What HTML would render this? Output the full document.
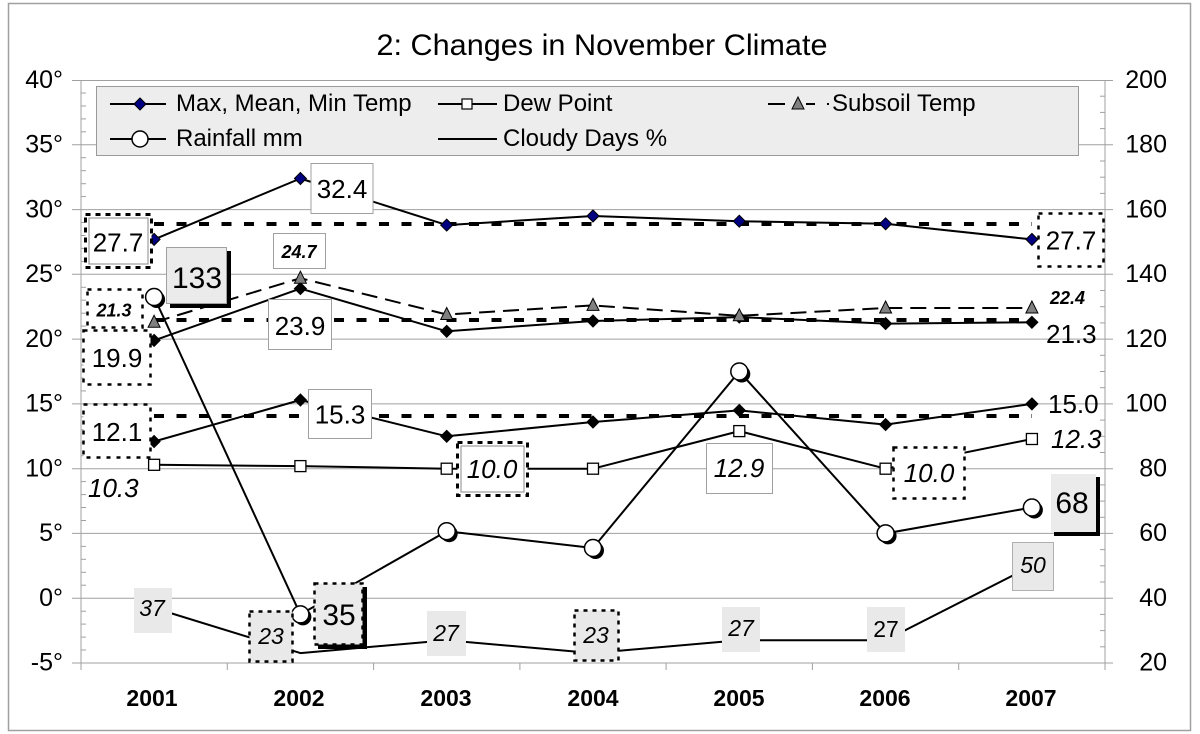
<!DOCTYPE html>
<html><head><meta charset="utf-8"><style>
html,body{margin:0;padding:0;background:#fff;}
svg{display:block;}
text{font-family:"Liberation Sans",Arial,sans-serif;fill:#000;}
</style></head><body>
<svg width="1200" height="734" viewBox="0 0 1200 734" xmlns="http://www.w3.org/2000/svg">
<rect x="0" y="0" width="1200" height="734" fill="#fff"/>
<rect x="8.5" y="3.5" width="1182" height="727" fill="none" stroke="#a0a0a0" stroke-width="1.5"/>

<text x="602" y="55" font-size="30" text-anchor="middle" textLength="451" lengthAdjust="spacingAndGlyphs">2: Changes in November Climate</text>

<!-- gridlines -->
<g stroke="#a0a0a0" stroke-width="1">
<line x1="72" y1="80.5" x2="1113" y2="80.5"/>
<line x1="72" y1="144.8" x2="1113" y2="144.8"/>
<line x1="72" y1="209.6" x2="1113" y2="209.6"/>
<line x1="72" y1="274.3" x2="1113" y2="274.3"/>
<line x1="72" y1="339.1" x2="1113" y2="339.1"/>
<line x1="72" y1="403.9" x2="1113" y2="403.9"/>
<line x1="72" y1="468.7" x2="1113" y2="468.7"/>
<line x1="72" y1="533.4" x2="1113" y2="533.4"/>
<line x1="72" y1="598.2" x2="1113" y2="598.2"/>
<line x1="72" y1="663" x2="1113" y2="663"/>
<line x1="81" y1="80" x2="81" y2="663"/>
<line x1="1105" y1="80" x2="1105" y2="663"/>
<line x1="81" y1="663" x2="81" y2="670"/>
<line x1="227.3" y1="663" x2="227.3" y2="670"/>
<line x1="373.6" y1="663" x2="373.6" y2="670"/>
<line x1="519.9" y1="663" x2="519.9" y2="670"/>
<line x1="666.1" y1="663" x2="666.1" y2="670"/>
<line x1="812.4" y1="663" x2="812.4" y2="670"/>
<line x1="958.7" y1="663" x2="958.7" y2="670"/>
<line x1="1105" y1="663" x2="1105" y2="670"/>
</g>
<!-- minor ticks left -->
<g stroke="#a0a0a0" stroke-width="1">
<line x1="81" y1="93" x2="86" y2="93"/><line x1="81" y1="106" x2="86" y2="106"/><line x1="81" y1="118.9" x2="86" y2="118.9"/><line x1="81" y1="131.8" x2="86" y2="131.8"/>
<line x1="81" y1="157.7" x2="86" y2="157.7"/><line x1="81" y1="170.7" x2="86" y2="170.7"/><line x1="81" y1="183.7" x2="86" y2="183.7"/><line x1="81" y1="196.6" x2="86" y2="196.6"/>
<line x1="81" y1="222.5" x2="86" y2="222.5"/><line x1="81" y1="235.5" x2="86" y2="235.5"/><line x1="81" y1="248.4" x2="86" y2="248.4"/><line x1="81" y1="261.4" x2="86" y2="261.4"/>
<line x1="81" y1="287.3" x2="86" y2="287.3"/><line x1="81" y1="300.2" x2="86" y2="300.2"/><line x1="81" y1="313.2" x2="86" y2="313.2"/><line x1="81" y1="326.1" x2="86" y2="326.1"/>
<line x1="81" y1="352.1" x2="86" y2="352.1"/><line x1="81" y1="365" x2="86" y2="365"/><line x1="81" y1="378" x2="86" y2="378"/><line x1="81" y1="390.9" x2="86" y2="390.9"/>
<line x1="81" y1="416.8" x2="86" y2="416.8"/><line x1="81" y1="429.8" x2="86" y2="429.8"/><line x1="81" y1="442.8" x2="86" y2="442.8"/><line x1="81" y1="455.7" x2="86" y2="455.7"/>
<line x1="81" y1="481.6" x2="86" y2="481.6"/><line x1="81" y1="494.6" x2="86" y2="494.6"/><line x1="81" y1="507.5" x2="86" y2="507.5"/><line x1="81" y1="520.5" x2="86" y2="520.5"/>
<line x1="81" y1="546.4" x2="86" y2="546.4"/><line x1="81" y1="559.3" x2="86" y2="559.3"/><line x1="81" y1="572.3" x2="86" y2="572.3"/><line x1="81" y1="585.2" x2="86" y2="585.2"/>
<line x1="81" y1="611.2" x2="86" y2="611.2"/><line x1="81" y1="624.1" x2="86" y2="624.1"/><line x1="81" y1="637.1" x2="86" y2="637.1"/><line x1="81" y1="650" x2="86" y2="650"/>
</g>
<!-- minor ticks right -->
<g stroke="#a0a0a0" stroke-width="1">
<line x1="1100" y1="96.2" x2="1105" y2="96.2"/><line x1="1100" y1="112.4" x2="1105" y2="112.4"/><line x1="1100" y1="128.6" x2="1105" y2="128.6"/>
<line x1="1100" y1="161" x2="1105" y2="161"/><line x1="1100" y1="177.2" x2="1105" y2="177.2"/><line x1="1100" y1="193.4" x2="1105" y2="193.4"/>
<line x1="1100" y1="225.8" x2="1105" y2="225.8"/><line x1="1100" y1="242" x2="1105" y2="242"/><line x1="1100" y1="258.1" x2="1105" y2="258.1"/>
<line x1="1100" y1="290.5" x2="1105" y2="290.5"/><line x1="1100" y1="306.7" x2="1105" y2="306.7"/><line x1="1100" y1="322.9" x2="1105" y2="322.9"/>
<line x1="1100" y1="355.3" x2="1105" y2="355.3"/><line x1="1100" y1="371.5" x2="1105" y2="371.5"/><line x1="1100" y1="387.7" x2="1105" y2="387.7"/>
<line x1="1100" y1="420.1" x2="1105" y2="420.1"/><line x1="1100" y1="436.3" x2="1105" y2="436.3"/><line x1="1100" y1="452.5" x2="1105" y2="452.5"/>
<line x1="1100" y1="484.9" x2="1105" y2="484.9"/><line x1="1100" y1="501.1" x2="1105" y2="501.1"/><line x1="1100" y1="517.3" x2="1105" y2="517.3"/>
<line x1="1100" y1="549.6" x2="1105" y2="549.6"/><line x1="1100" y1="565.8" x2="1105" y2="565.8"/><line x1="1100" y1="582" x2="1105" y2="582"/>
<line x1="1100" y1="614.4" x2="1105" y2="614.4"/><line x1="1100" y1="630.6" x2="1105" y2="630.6"/><line x1="1100" y1="646.8" x2="1105" y2="646.8"/>
</g>

<!-- axis labels -->
<g font-size="25" text-anchor="end">
<text x="63" y="88">40°</text><text x="63" y="152.5">35°</text><text x="63" y="217.3">30°</text><text x="63" y="282">25°</text>
<text x="63" y="346.8">20°</text><text x="63" y="411.6">15°</text><text x="63" y="476.4">10°</text><text x="63" y="541.1">5°</text>
<text x="63" y="605.9">0°</text><text x="63" y="670.7">-5°</text>
<text x="1167" y="88">200</text><text x="1167" y="152.5">180</text><text x="1167" y="217.3">160</text><text x="1167" y="282">140</text>
<text x="1167" y="346.8">120</text><text x="1167" y="411.6">100</text><text x="1167" y="476.4">80</text><text x="1167" y="541.1">60</text>
<text x="1167" y="605.9">40</text><text x="1167" y="670.7">20</text>
</g>
<g font-size="23" font-weight="bold" text-anchor="middle">
<text x="152" y="706">2001</text><text x="299" y="706">2002</text><text x="446" y="706">2003</text><text x="593" y="706">2004</text>
<text x="739" y="706">2005</text><text x="885" y="706">2006</text><text x="1031" y="706">2007</text>
</g>

<!-- legend -->
<rect x="96.5" y="86.5" width="982" height="69" fill="#ededed" stroke="#9a9a9a" stroke-width="1"/>
<g stroke="#000" stroke-width="2">
<line x1="110" y1="104" x2="166" y2="104"/>
<line x1="110" y1="139" x2="166" y2="139"/>
<line x1="438" y1="104" x2="497" y2="104"/>
<line x1="438" y1="139" x2="497" y2="139"/>
<line x1="768" y1="104" x2="785" y2="104"/>
<line x1="806" y1="104" x2="815" y2="104"/>
<line x1="827" y1="104" x2="829" y2="104"/>
</g>
<polygon points="140,98 146,104 140,110 134,104" fill="#000080" stroke="#000" stroke-width="1"/>
<circle cx="140" cy="139" r="8" fill="#fff" stroke="#000" stroke-width="1.5"/>
<rect x="462" y="99" width="10" height="10" fill="#fff" stroke="#000" stroke-width="1.2"/>
<polygon points="798,97 804,109 792,109" fill="#808080" stroke="#000" stroke-width="1"/>
<g font-size="24">
<text x="176" y="111">Max, Mean, Min Temp</text>
<text x="503" y="111">Dew Point</text>
<text x="832" y="111">Subsoil Temp</text>
<text x="176" y="146">Rainfall mm</text>
<text x="503" y="146">Cloudy Days %</text>
</g>

<!-- average lines -->
<g stroke="#000" stroke-width="4" stroke-dasharray="10 12.5" fill="none">
<line x1="154" y1="224" x2="1032" y2="224"/>
<line x1="154" y1="320" x2="1032" y2="320"/>
<line x1="154" y1="416" x2="1032" y2="416"/>
</g>

<!-- series lines -->
<g fill="none" stroke="#000" stroke-width="2" stroke-linejoin="round">
<polyline points="154.1,608 300.4,653.1 446.7,640.2 593,653.1 739.3,640.2 885.6,640.2 1031.9,565.8"/>
<polyline points="154.1,297 300.4,614.4 446.7,531.2 593,548 739.3,371.5 885.6,533.4 1031.9,507.5"/>
<polyline points="154.1,464.8 300.4,466.1 446.7,468.7 593,468.7 739.3,431.1 885.6,468.7 1031.9,439"/>
<polyline points="154.1,441.5 300.4,400 446.7,436.3 593,422 739.3,410.4 885.6,424.6 1031.9,403.9"/>
<polyline points="154.1,340.4 300.4,288.6 446.7,331.3 593,321 739.3,317.1 885.6,323.6 1031.9,322.3"/>
<polyline points="154.1,322.3 300.4,278.2 446.7,314.5 593,305.4 739.3,315.8 885.6,308 1031.9,308" stroke-dasharray="16 8"/>
<polyline points="154.1,239.4 300.4,178.5 446.7,225.1 593,216 739.3,221.2 885.6,223.8 1031.9,239.4"/>
</g>

<!-- markers -->
<g fill="#000080" stroke="#000" stroke-width="1">
<polygon points="154.1,233.4 160.1,239.4 154.1,245.4 148.1,239.4"/>
<polygon points="300.4,172.5 306.4,178.5 300.4,184.5 294.4,178.5"/>
<polygon points="446.7,219.1 452.7,225.1 446.7,231.1 440.7,225.1"/>
<polygon points="593,210 599,216 593,222 587,216"/>
<polygon points="739.3,215.2 745.3,221.2 739.3,227.2 733.3,221.2"/>
<polygon points="885.6,217.8 891.6,223.8 885.6,229.8 879.6,223.8"/>
<polygon points="1031.9,233.4 1037.9,239.4 1031.9,245.4 1025.9,239.4"/>
</g>
<g fill="#000" stroke="#000" stroke-width="1">
<polygon points="154.1,334.4 160.1,340.4 154.1,346.4 148.1,340.4"/>
<polygon points="300.4,282.6 306.4,288.6 300.4,294.6 294.4,288.6"/>
<polygon points="446.7,325.3 452.7,331.3 446.7,337.3 440.7,331.3"/>
<polygon points="593,315 599,321 593,327 587,321"/>
<polygon points="739.3,311.1 745.3,317.1 739.3,323.1 733.3,317.1"/>
<polygon points="885.6,317.6 891.6,323.6 885.6,329.6 879.6,323.6"/>
<polygon points="1031.9,316.3 1037.9,322.3 1031.9,328.3 1025.9,322.3"/>
<polygon points="154.1,435.5 160.1,441.5 154.1,447.5 148.1,441.5"/>
<polygon points="300.4,394 306.4,400 300.4,406 294.4,400"/>
<polygon points="446.7,430.3 452.7,436.3 446.7,442.3 440.7,436.3"/>
<polygon points="593,416 599,422 593,428 587,422"/>
<polygon points="739.3,404.4 745.3,410.4 739.3,416.4 733.3,410.4"/>
<polygon points="885.6,418.6 891.6,424.6 885.6,430.6 879.6,424.6"/>
<polygon points="1031.9,397.9 1037.9,403.9 1031.9,409.9 1025.9,403.9"/>
</g>
<g fill="#808080" stroke="#000" stroke-width="1">
<polygon points="154.1,315.3 160.1,327.3 148.1,327.3"/>
<polygon points="300.4,271.2 306.4,283.2 294.4,283.2"/>
<polygon points="446.7,307.5 452.7,319.5 440.7,319.5"/>
<polygon points="593,298.4 599,310.4 587,310.4"/>
<polygon points="739.3,308.8 745.3,320.8 733.3,320.8"/>
<polygon points="885.6,301 891.6,313 879.6,313"/>
<polygon points="1031.9,301 1037.9,313 1025.9,313"/>
</g>
<g fill="#fff" stroke="#000" stroke-width="1.3">
<rect x="148.6" y="459.3" width="11" height="11"/>
<rect x="294.9" y="460.6" width="11" height="11"/>
<rect x="441.2" y="463.2" width="11" height="11"/>
<rect x="587.5" y="463.2" width="11" height="11"/>
<rect x="733.8" y="425.6" width="11" height="11"/>
<rect x="880.1" y="463.2" width="11" height="11"/>
<rect x="1026.4" y="433.5" width="11" height="11"/>
</g>
<g fill="#000">
<circle cx="156.6" cy="299.5" r="8.5"/><circle cx="302.9" cy="616.9" r="8.5"/><circle cx="449.2" cy="533.7" r="8.5"/>
<circle cx="595.5" cy="550.5" r="8.5"/><circle cx="741.8" cy="374" r="8.5"/><circle cx="888.1" cy="535.9" r="8.5"/><circle cx="1034.4" cy="510" r="8.5"/>
</g>
<g fill="#fff" stroke="#000" stroke-width="1.5">
<circle cx="154.1" cy="297" r="8.5"/><circle cx="300.4" cy="614.4" r="8.5"/><circle cx="446.7" cy="531.2" r="8.5"/>
<circle cx="593" cy="548" r="8.5"/><circle cx="739.3" cy="371.5" r="8.5"/><circle cx="885.6" cy="533.4" r="8.5"/><circle cx="1031.9" cy="507.5" r="8.5"/>
</g>

<!-- label boxes -->
<g fill="#fff" stroke="#a0a0a0" stroke-width="1">
<rect x="311" y="163.5" width="62" height="50"/>
<rect x="268.5" y="299.5" width="63" height="50"/>
<rect x="308.5" y="389.5" width="63" height="49"/>
<rect x="706.5" y="443.5" width="66" height="50"/>
<rect x="273.5" y="233.5" width="52" height="35"/>
</g>
<g fill="#fff">
<rect x="85.5" y="214.5" width="66" height="53" stroke="#000" stroke-width="3" stroke-dasharray="5 5"/>
<rect x="89" y="218" width="59" height="46" stroke="#888" stroke-width="1"/>
<rect x="457.5" y="442.5" width="70" height="53" stroke="#000" stroke-width="3" stroke-dasharray="5 5"/>
<rect x="461" y="446" width="63" height="46" stroke="#888" stroke-width="1"/>
</g>
<g fill="#fff" stroke="#000" stroke-width="2.5" stroke-dasharray="4 6">
<rect x="1038.5" y="213.5" width="65" height="53"/>
<rect x="83.5" y="330.5" width="67" height="54"/>
<rect x="83.5" y="404.5" width="67" height="53"/>
<rect x="893.5" y="447.5" width="71" height="51"/>
<rect x="87.5" y="289.5" width="55" height="38"/>
</g>
<rect x="170" y="251" width="61" height="57" fill="#000"/>
<rect x="166.5" y="247.5" width="60" height="56" fill="#ebebeb" stroke="#a0a0a0" stroke-width="1"/>
<rect x="318" y="587" width="49" height="62" fill="#000"/>
<rect x="314.5" y="583.5" width="48" height="61" fill="#ebebeb" stroke="#000" stroke-width="2.5" stroke-dasharray="4 5"/>
<rect x="1054" y="477" width="46" height="59" fill="#000"/>
<rect x="1051" y="474" width="45" height="58" fill="#ebebeb"/>
<g fill="#e9e9e9">
<rect x="134" y="588" width="38" height="45"/>
<rect x="427" y="611" width="39" height="45"/>
<rect x="722" y="607" width="38" height="45"/>
<rect x="867" y="607" width="38" height="45"/>
</g>
<rect x="1012.5" y="542.5" width="41" height="48" fill="#e9e9e9" stroke="#b0b0b0" stroke-width="1"/>
<g fill="#e9e9e9" stroke="#000" stroke-width="2.5" stroke-dasharray="4 5">
<rect x="249.5" y="611.5" width="43" height="50"/>
<rect x="574.5" y="610.5" width="44" height="50"/>
</g>

<!-- label texts -->
<g font-size="26" text-anchor="middle">
<text x="118" y="251.5">27.7</text>
<text x="342" y="198">32.4</text>
<text x="1071" y="249.5">27.7</text>
<text x="117" y="367">19.9</text>
<text x="300" y="335">23.9</text>
<text x="117" y="441">12.1</text>
<text x="340" y="423.5">15.3</text>
</g>
<g font-size="26">
<text x="1046" y="343">21.3</text>
<text x="1048" y="413">15.0</text>
</g>
<g font-size="26" font-style="italic" text-anchor="middle">
<text x="492" y="478">10.0</text>
<text x="739" y="477">12.9</text>
<text x="929" y="482">10.0</text>
</g>
<g font-size="26" font-style="italic">
<text x="88" y="497">10.3</text>
<text x="1051" y="448">12.3</text>
</g>
<g font-size="18" font-style="italic" font-weight="bold" text-anchor="middle">
<text x="114" y="316.5">21.3</text>
<text x="299" y="258">24.7</text>
</g>
<text x="1050" y="304" font-size="18" font-style="italic" font-weight="bold">22.4</text>
<g font-size="30" text-anchor="middle">
<text x="197" y="288">133</text>
<text x="339" y="625">35</text>
<text x="1072" y="513">68</text>
</g>
<g font-size="23" font-style="italic" text-anchor="middle">
<text x="152" y="616">37</text>
<text x="271" y="644">23</text>
<text x="446" y="641">27</text>
<text x="596" y="643">23</text>
<text x="741" y="636">27</text>
<text x="1033" y="573">50</text>
</g>
<text x="886" y="637" font-size="23" text-anchor="middle">27</text>
</svg>
</body></html>
